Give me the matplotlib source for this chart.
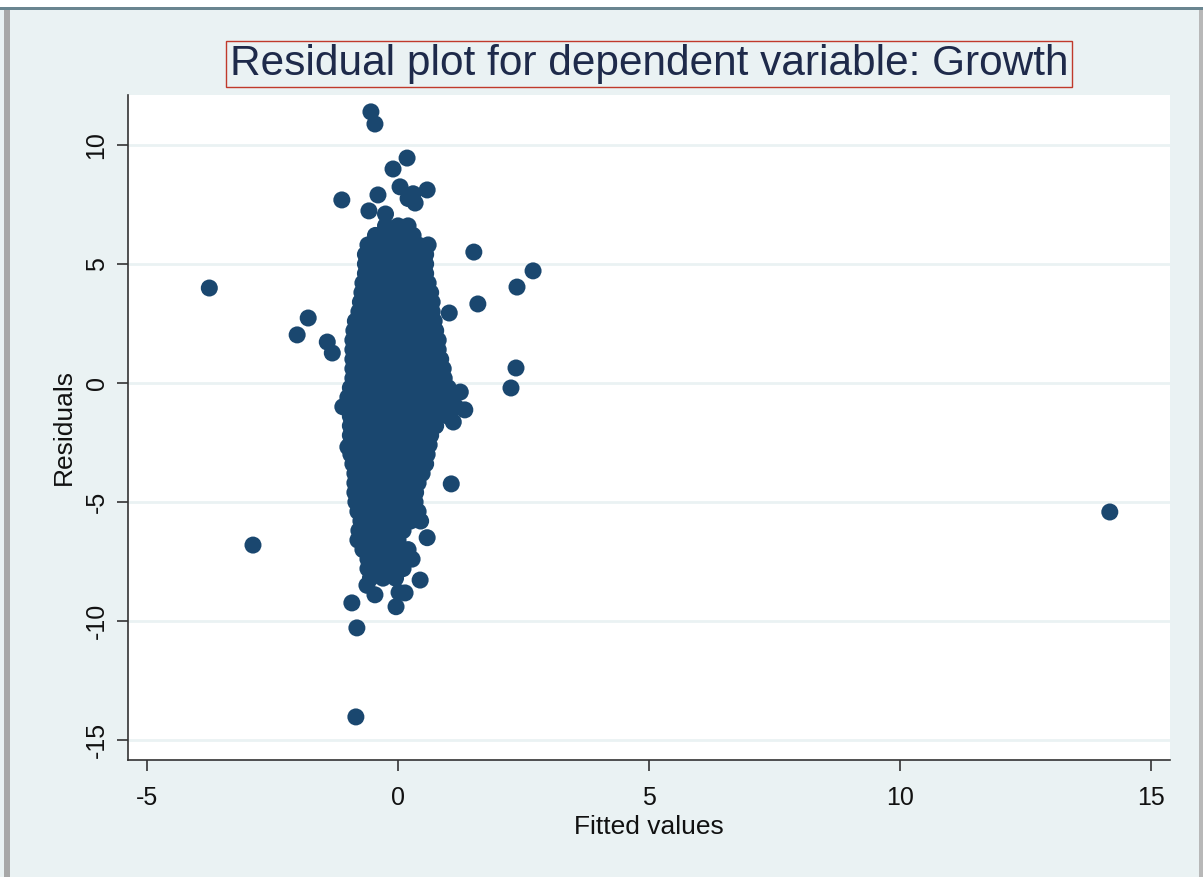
import numpy as np
import matplotlib.pyplot as plt
from matplotlib.patches import Rectangle

plt.rcParams['font.family'] = ['Liberation Sans', 'DejaVu Sans']
plt.rcParams['axes.unicode_minus'] = False

# dense core of the residual cloud, one row of fitted values per residual level
core_rows = [
    (6.6, [-0.25, 0.0, 0.2]),
    (6.2, [-0.45, -0.2, 0.05, 0.3]),
    (5.8, [-0.6, -0.35, -0.1, 0.15, 0.4, 0.6]),
    (5.4, [-0.65, -0.4, -0.15, 0.1, 0.35, 0.55]),
    (5.0, [-0.65, -0.4, -0.15, 0.1, 0.35, 0.55]),
    (4.6, [-0.65, -0.4, -0.15, 0.1, 0.35, 0.55]),
    (4.2, [-0.7, -0.45, -0.2, 0.05, 0.3, 0.55, 0.6]),
    (3.8, [-0.72, -0.5, -0.25, 0.0, 0.25, 0.5, 0.65]),
    (3.4, [-0.75, -0.5, -0.25, 0.0, 0.25, 0.5, 0.68]),
    (3.0, [-0.78, -0.55, -0.3, -0.05, 0.2, 0.45, 0.68]),
    (2.6, [-0.85, -0.6, -0.35, -0.1, 0.15, 0.4, 0.65, 0.72]),
    (2.2, [-0.88, -0.65, -0.4, -0.15, 0.1, 0.35, 0.6, 0.75]),
    (1.8, [-0.9, -0.65, -0.4, -0.15, 0.1, 0.35, 0.6, 0.8]),
    (1.4, [-0.9, -0.7, -0.45, -0.2, 0.05, 0.3, 0.55, 0.8]),
    (1.0, [-0.9, -0.65, -0.4, -0.15, 0.1, 0.35, 0.6, 0.85]),
    (0.6, [-0.9, -0.7, -0.45, -0.2, 0.05, 0.3, 0.55, 0.8, 0.9]),
    (0.2, [-0.9, -0.65, -0.4, -0.15, 0.1, 0.35, 0.6, 0.85, 0.92]),
    (-0.2, [-0.95, -0.7, -0.45, -0.2, 0.05, 0.3, 0.55, 0.8, 1.0]),
    (-0.6, [-1.0, -0.75, -0.5, -0.25, 0.0, 0.25, 0.5, 0.75, 1.0, 1.1]),
    (-1.0, [-1.05, -0.8, -0.55, -0.3, -0.05, 0.2, 0.45, 0.7, 0.95, 1.15]),
    (-1.4, [-0.95, -0.7, -0.45, -0.2, 0.05, 0.3, 0.55, 0.8, 1.0]),
    (-1.8, [-0.95, -0.7, -0.45, -0.2, 0.05, 0.3, 0.55, 0.75]),
    (-2.2, [-0.95, -0.75, -0.5, -0.25, 0.0, 0.25, 0.5, 0.65]),
    (-2.6, [-0.96, -0.7, -0.45, -0.2, 0.05, 0.3, 0.55, 0.62]),
    (-3.0, [-0.94, -0.7, -0.45, -0.2, 0.05, 0.3, 0.55, 0.58]),
    (-3.4, [-0.9, -0.65, -0.4, -0.15, 0.1, 0.35, 0.55]),
    (-3.8, [-0.86, -0.6, -0.35, -0.1, 0.15, 0.4, 0.48]),
    (-4.2, [-0.86, -0.6, -0.35, -0.1, 0.15, 0.4]),
    (-4.6, [-0.86, -0.6, -0.35, -0.1, 0.15, 0.35]),
    (-5.0, [-0.84, -0.6, -0.35, -0.1, 0.15, 0.34]),
    (-5.4, [-0.8, -0.55, -0.3, -0.05, 0.2, 0.4]),
    (-5.8, [-0.74, -0.5, -0.25, 0.0, 0.25, 0.45]),
    (-6.2, [-0.78, -0.55, -0.3, -0.05, 0.1]),
    (-6.6, [-0.8, -0.55, -0.3, -0.05, 0.0]),
    (-7.0, [-0.7, -0.45, -0.2, 0.05, 0.2]),
    (-7.4, [-0.6, -0.35, -0.1, 0.15, 0.28]),
    (-7.8, [-0.6, -0.35, -0.1, 0.1]),
    (-8.2, [-0.55, -0.3, -0.05]),
]

# scattered points outside the core
out_fitted = [-3.76, -2.89, 14.18, -2.01, -1.79, -1.41, -1.31, -1.12, -0.54, -0.46,
              0.18, -0.10, -0.40, -0.58, 0.04, 0.58, 0.34, 0.20, 1.51, 2.69,
              2.37, 1.59, 2.35, 2.25, 1.06, 1.02, 1.24, 1.33, 1.10, -1.10,
              -1.00, -0.92, -0.82, -0.84, -0.04, 0.14, 0.02, 0.44, 0.58, -0.46,
              -0.62, 0.30, -0.25]
out_resid = [3.99, -6.81, -5.42, 2.02, 2.73, 1.72, 1.26, 7.69, 11.39, 10.88,
             9.45, 8.99, 7.90, 7.23, 8.24, 8.11, 7.56, 7.75, 5.50, 4.71,
             4.03, 3.32, 0.63, -0.21, -4.24, 2.94, -0.38, -1.13, -1.64, -1.00,
             -2.69, -9.24, -10.29, -14.03, -9.40, -8.82, -8.80, -8.28, -6.50, -8.90,
             -8.50, 7.95, 7.10]

fitted = list(out_fitted)
resid = list(out_resid)
for r, xs in core_rows:
    fitted += xs
    resid += [r] * len(xs)

navy = '#1A476F'
bg = '#EAF2F3'

fig = plt.figure(figsize=(12.03, 8.77), dpi=100, facecolor=bg)

# window frame bits around the graph
fig.patches.append(Rectangle((0, 0.991), 1, 0.009, transform=fig.transFigure,
                             facecolor='white', edgecolor='none', zorder=0))
fig.patches.append(Rectangle((0, 0.989), 1, 0.0025, transform=fig.transFigure,
                             facecolor='#6A8590', edgecolor='none', zorder=0))
fig.patches.append(Rectangle((0.003, 0), 0.005, 0.989, transform=fig.transFigure,
                             facecolor='#A8A8A8', edgecolor='none', zorder=0))
fig.patches.append(Rectangle((0.997, 0), 0.003, 0.989, transform=fig.transFigure,
                             facecolor='#B8B8B8', edgecolor='none', zorder=0))

ax = fig.add_axes([0.1064, 0.1334, 0.8662, 0.7583])
ax.set_facecolor('white')
ax.scatter(fitted, resid, s=150, color=navy, edgecolors='none', zorder=3)

ax.set_xlim(-5.38, 15.38)
ax.set_ylim(-15.84, 12.1)
ax.set_xticks([-5, 0, 5, 10, 15])
ax.set_yticks([-15, -10, -5, 0, 5, 10])
ax.grid(axis='y', color='#EAF2F3', linewidth=2, zorder=1)
ax.set_axisbelow(True)

for side in ['top', 'right']:
    ax.spines[side].set_visible(False)
for side in ['left', 'bottom']:
    ax.spines[side].set_color('#333333')
    ax.spines[side].set_linewidth(1.2)

ax.tick_params(axis='both', labelsize=18, length=8, width=1.2, color='#333333',
               labelcolor='#111111')
ax.tick_params(axis='x', pad=11)
ax.tick_params(axis='y', pad=6)
for lbl in ax.get_yticklabels():
    lbl.set_rotation(90)
    lbl.set_va('center')

ax.set_xlabel('Fitted values', fontsize=19, color='#111111', labelpad=3)
ax.set_ylabel('Residuals', fontsize=19, color='#111111', labelpad=6)

fig.text(0.5395, 0.927, 'Residual plot for dependent variable: Growth',
         fontsize=30.5, color='#1E2A4A', ha='center', va='center',
         bbox=dict(facecolor='none', edgecolor='#C0392B', linewidth=1, pad=2.5))

fig.savefig('out.png', dpi=100, facecolor=bg)
